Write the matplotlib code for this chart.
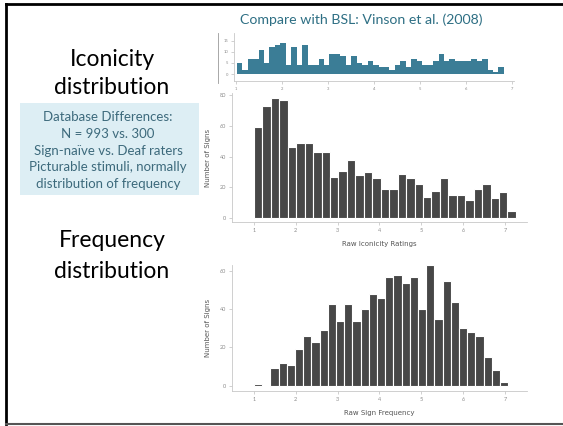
import matplotlib.pyplot as plt
import numpy as np

W, H = 563, 426

# BSL (Vinson et al. 2008) iconicity histogram, small teal inset
bsl_start, bsl_width = 1.02, 0.1186
bsl_counts = [5, 2, 7, 7, 11, 5, 12, 13, 14, 4, 12, 4, 13, 4, 4, 7, 4, 9, 9, 8,
              4, 8, 5, 4, 6, 4, 3, 3, 2, 4, 6, 3, 7, 6, 4, 4, 6, 9, 6, 7,
              6, 6, 6, 7, 6, 7, 2, 1, 3]

# raw iconicity ratings histogram
icon_start, icon_width = 1.0, 0.202
icon_counts = [59, 73, 78, 77, 46, 49, 49, 43, 43, 27, 31, 38, 28, 30, 26, 19,
               19, 29, 26, 22, 14, 18, 26, 15, 15, 12, 19, 22, 13, 17, 5]

# raw sign frequency histogram
freq_start, freq_width = 1.0, 0.196
freq_counts = [1, 0, 9, 12, 11, 19, 26, 23, 29, 43, 34, 43, 34, 40, 48, 46, 57,
               58, 54, 57, 40, 63, 35, 55, 44, 30, 28, 26, 15, 8, 2]

x_ticks = [1, 2, 3, 4, 5, 6, 7]

box_lines = ["Database Differences:", "N = 993 vs. 300",
             "Sign-naïve vs. Deaf raters", "Picturable stimuli, normally",
             "distribution of frequency"]

plt.rcParams['font.family'] = ['Lato', 'DejaVu Sans']

fig = plt.figure(figsize=(W / 100, H / 100), dpi=100)
fig.patch.set_facecolor('white')


def px_axes(left, top, right, bottom):
    return fig.add_axes([left / W, 1 - bottom / H, (right - left) / W, (bottom - top) / H])


def ftext(x, y, s, **kw):
    fig.text(x / W, 1 - y / H, s, **kw)


def style(ax, tick_size=4):
    for s in ['top', 'right']:
        ax.spines[s].set_visible(False)
    for s in ['left', 'bottom']:
        ax.spines[s].set_color('#c8c8c8')
        ax.spines[s].set_linewidth(0.6)
    ax.tick_params(colors='#bdbdbd', labelcolor='#8a8a8a', labelsize=tick_size,
                   length=2, width=0.5, pad=2)
    ax.set_facecolor('none')


def edges(start, width, n):
    return start + width * np.arange(n)


# slide border
bg = fig.add_axes([0, 0, 1, 1])
bg.set_xlim(0, W)
bg.set_ylim(H, 0)
bg.axis('off')
bg.plot([5.5, 5.5], [3.5, 424], color='black', lw=2)
bg.plot([5.5, W], [3.5, 3.5], color='black', lw=2)
bg.plot([5.5, W], [424, 424], color='#555555', lw=1.5)
bg.plot([218, 218], [33, 83], color='#9a9a9a', lw=0.6)
bg.add_patch(plt.Rectangle((20, 103), 179, 92, color='#ddeef4', lw=0))

# left text
for y, s in [(60, "Iconicity"), (88, "distribution"),
             (241, "Frequency"), (271, "distribution")]:
    ftext(112, y, s, ha='center', va='center', fontsize=16.5, color='black')
for i, line in enumerate(box_lines):
    ftext(108, 117 + i * 16.8, line, ha='center', va='center', fontsize=9.5, color='#3d6a7c')

ftext(361, 20, "Compare with BSL: Vinson et al. (2008)", ha='center', va='center',
      fontsize=10.2, color='#2e6f84')

# teal BSL inset
ax0 = px_axes(234, 33, 514, 81)
ax0.bar(edges(bsl_start, bsl_width, len(bsl_counts)), bsl_counts, width=bsl_width,
        align='edge', color='#3b7d96', linewidth=0)
ax0.set_xlim(0.96, 7.05)
ax0.set_ylim(-3.1, 18.5)
ax0.set_xticks(x_ticks)
ax0.set_yticks([0, 5, 10, 15])
style(ax0, tick_size=3)

# iconicity
ax1 = px_axes(231.7, 93, 526.7, 222.3)
ax1.bar(edges(icon_start, icon_width, len(icon_counts)), icon_counts, width=icon_width,
        align='edge', color='#474747', edgecolor='white', linewidth=0.8)
ax1.set_xlim(0.467, 7.52)
ax1.set_ylim(-2.6, 81.3)
ax1.set_xticks(x_ticks)
ax1.set_yticks([0, 20, 40, 60, 80])
style(ax1)
ax1.set_xlabel("Raw Iconicity Ratings", fontsize=5.0, color='#555555', labelpad=6,
               family=['DejaVu Sans'])
ax1.set_ylabel("Number of Signs", fontsize=5.0, color='#555555', labelpad=6,
               family=['DejaVu Sans'])

# frequency
ax2 = px_axes(231.7, 265, 526.7, 391)
ax2.bar(edges(freq_start, freq_width, len(freq_counts)), freq_counts, width=freq_width,
        align='edge', color='#474747', edgecolor='white', linewidth=0.8)
ax2.set_xlim(0.467, 7.52)
ax2.set_ylim(-2.8, 63.2)
ax2.set_xticks(x_ticks)
ax2.set_yticks([0, 20, 40, 60])
style(ax2)
ax2.set_xlabel("Raw Sign Frequency", fontsize=5.0, color='#555555', labelpad=6,
               family=['DejaVu Sans'])
ax2.set_ylabel("Number of Signs", fontsize=5.0, color='#555555', labelpad=6,
               family=['DejaVu Sans'])

fig.savefig('out.png', dpi=100)
